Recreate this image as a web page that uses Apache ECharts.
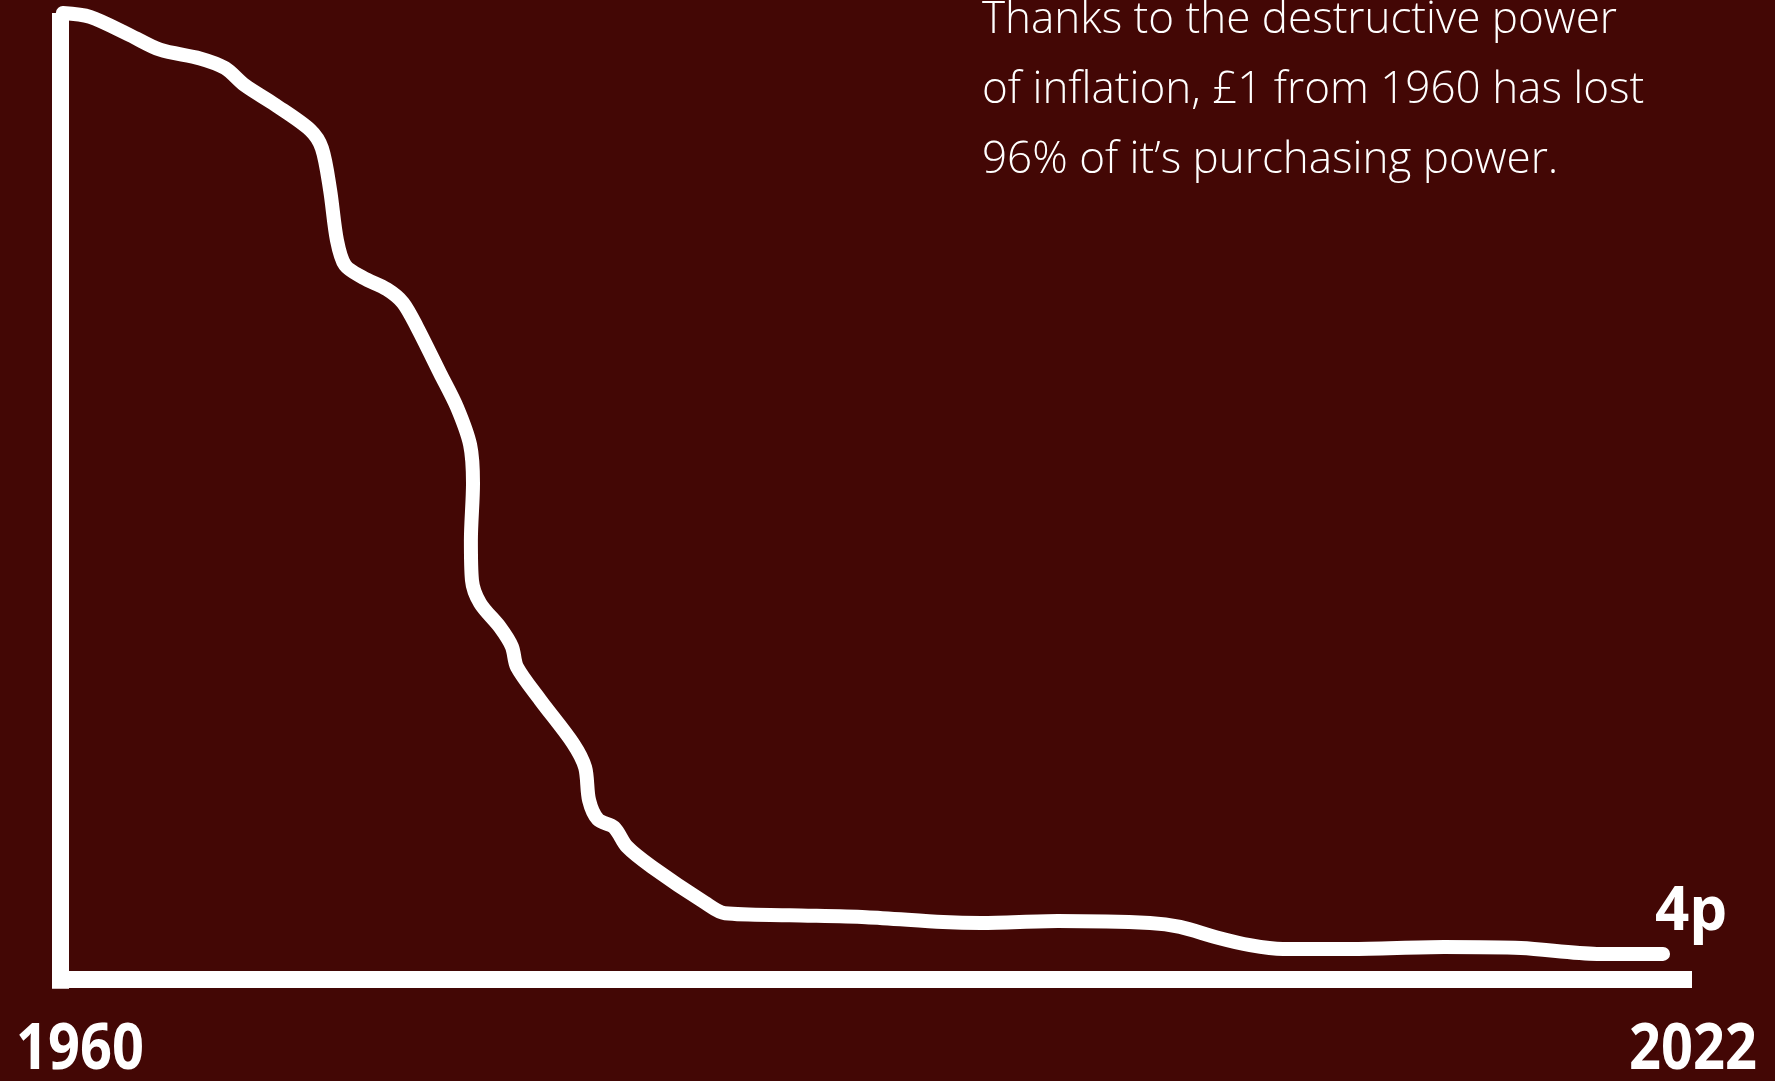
<!DOCTYPE html>
<html>
<head>
<meta charset="utf-8">
<script src="https://cdn.jsdelivr.net/npm/echarts@6/dist/echarts.min.js"></script>
<style>
  html, body { margin: 0; padding: 0; background: #430705; }
  #chart { width: 1775px; height: 1081px; }
</style>
</head>
<body>
<div id="chart"></div>
<script>
// Hand-drawn purchasing-power curve: year, value of £1 in pence
const years = [1960.11, 1961.14, 1962.66, 1963.80, 1965.32, 1966.27, 1967.03, 1968.17, 1969.50, 1969.95,
  1970.26, 1970.52, 1970.83, 1971.51, 1972.42, 1973.03, 1973.56, 1974.44, 1975.08, 1975.58,
  1975.69, 1975.61, 1975.65, 1975.96, 1976.72, 1977.17, 1977.36, 1978.24, 1979.49,
  1979.95, 1980.10, 1980.44, 1981.05, 1981.54, 1982.49, 1984.50, 1985.26, 1987.73, 1990.62,
  1993.55, 1994.99, 1997.91, 2001.41, 2002.55, 2003.95, 2005.21, 2006.46, 2009.01, 2012.58,
  2015.50, 2018.39, 2020.90];
const pence = [100.0, 99.6, 97.7, 96.2, 95.3, 94.3, 92.5, 90.5, 87.9, 86.0,
  81.7, 76.5, 73.9, 72.6, 71.4, 70.0, 67.5, 62.7, 59.2, 55.3,
  51.3, 45.4, 41.3, 38.9, 36.4, 34.4, 32.3, 28.9, 24.4,
  21.9, 18.5, 16.5, 15.7, 13.7, 11.6, 7.9, 6.8, 6.6, 6.4,
  5.9, 5.8, 6.0, 5.8, 5.4, 4.3, 3.5, 3.1, 3.1, 3.3,
  3.2, 2.6, 2.6];
const xTickLabels = ['1960', '2022'];
const endLabelText = '4p';
const noteLines = ['Thanks to the destructive power', 'of inflation, \u00a31 from 1960 has lost', '96% of it\u2019s purchasing power.'];

const chart = echarts.init(document.getElementById('chart'), null, { renderer: 'canvas' });
const seriesData = years.map((y, i) => [y, pence[i]]);

const option = {
  backgroundColor: '#430705',
  animation: false,
  grid: { left: 60, right: 83, top: 13, bottom: 92.34 },
  title: {
    text: noteLines.join('\n'),
    left: 982,
    top: -15,
    padding: 0,
    textStyle: {
      color: '#ffffff',
      fontFamily: 'Open Sans',
      fontWeight: 300,
      fontSize: 44,
      lineHeight: 70
    }
  },
  xAxis: {
    type: 'value',
    min: 1960,
    max: 2022,
    interval: 62,
    axisLine: { show: true, onZero: true, lineStyle: { color: '#ffffff', width: 17, cap: 'butt' } },
    axisTick: { show: false },
    axisLabel: { show: false },
    splitLine: { show: false }
  },
  yAxis: {
    type: 'value',
    min: -1,
    max: 100,
    axisLine: { show: true, lineStyle: { color: '#ffffff', width: 17, cap: 'butt' } },
    axisTick: { show: false },
    axisLabel: { show: false },
    splitLine: { show: false }
  },
  graphic: [
    {
      type: 'text', left: 16, top: 1018, scaleX: 0.86,
      style: { text: xTickLabels[0], fill: '#ffffff', font: '700 65px "Open Sans"' }
    },
    {
      type: 'text', left: 1629, top: 1018, scaleX: 0.86,
      style: { text: xTickLabels[1], fill: '#ffffff', font: '700 65px "Open Sans"' }
    }
  ],
  series: [{
    type: 'line',
    data: seriesData,
    smooth: 0.3,
    showSymbol: false,
    lineStyle: { color: '#ffffff', width: 14, cap: 'round', join: 'round' },
    endLabel: {
      show: true,
      formatter: endLabelText,
      color: '#ffffff',
      fontFamily: 'Open Sans',
      fontWeight: 700,
      fontSize: 60,
      offset: [-16, -41]
    }
  }]
};
chart.setOption(option);
</script>
</body>
</html>
